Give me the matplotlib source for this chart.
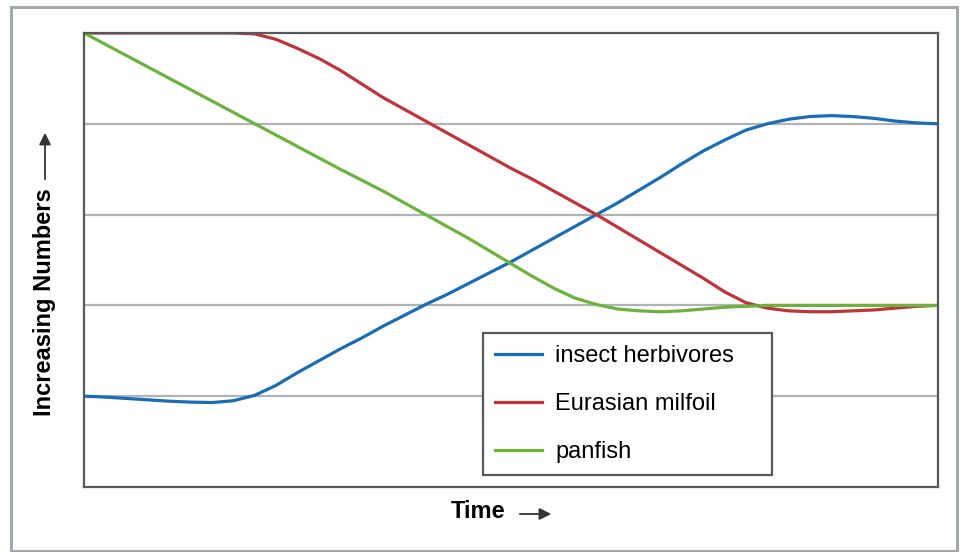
import matplotlib
matplotlib.use("Agg")
from matplotlib import pyplot as plt
from matplotlib.patches import Rectangle, FancyArrowPatch

plt.rcParams['font.family'] = ['Liberation Sans', 'DejaVu Sans']

time = [0, 0.25, 0.5, 0.75, 1, 1.25, 1.5, 1.75, 2, 2.25, 2.5, 2.75, 3, 3.25, 3.5, 3.75,
        4, 4.25, 4.5, 4.75, 5, 5.25, 5.5, 5.75, 6, 6.25, 6.5, 6.75, 7, 7.25, 7.5, 7.75,
        8, 8.25, 8.5, 8.75, 9, 9.25, 9.5, 9.75, 10]
herbivores = [1.0, 0.99, 0.975, 0.96, 0.945, 0.935, 0.93, 0.95, 1.01, 1.12, 1.26, 1.39,
              1.52, 1.64, 1.77, 1.89, 2.01, 2.12, 2.24, 2.36, 2.48, 2.61, 2.74, 2.87,
              3.0, 3.13, 3.27, 3.41, 3.56, 3.7, 3.82, 3.93, 4.0, 4.05, 4.08, 4.09,
              4.08, 4.06, 4.03, 4.01, 4.0]
milfoil = [5.0, 5.0, 5.0, 5.0, 5.0, 5.0, 5.0, 5.0, 4.99, 4.93, 4.83, 4.72, 4.59, 4.44,
           4.29, 4.16, 4.03, 3.9, 3.77, 3.64, 3.51, 3.39, 3.26, 3.13, 3.0, 2.86, 2.72,
           2.58, 2.44, 2.3, 2.15, 2.03, 1.97, 1.94, 1.93, 1.93, 1.94, 1.95, 1.97,
           1.99, 2.0]
panfish = [5.0, 4.875, 4.75, 4.625, 4.5, 4.375, 4.25, 4.125, 4.0, 3.875, 3.75, 3.625,
           3.5, 3.38, 3.26, 3.13, 3.0, 2.87, 2.74, 2.6, 2.46, 2.32, 2.19, 2.08, 2.01,
           1.96, 1.94, 1.93, 1.94, 1.96, 1.98, 1.99, 2.0, 2.0, 2.0, 2.0, 2.0, 2.0,
           2.0, 2.0, 2.0]
labels = ["insect herbivores", "Eurasian milfoil", "panfish"]
colors = ["#1a6db5", "#c1333b", "#6cb33e"]

fig = plt.figure(figsize=(9.64, 5.52), dpi=100)
W, H = 964, 552

# outer grey border
fig.patches.append(Rectangle((11 / W, 1 / H), 946 / W, 544 / H, transform=fig.transFigure,
                             fill=False, edgecolor="#a3a8ab", linewidth=2.2))

ax = fig.add_axes([84 / W, (H - 487) / H, 854 / W, 454 / H])
for spine in ax.spines.values():
    spine.set_color("#55595c")
    spine.set_linewidth(1.6)
    spine.set_zorder(4)

ax.set_xlim(0, 10)
ax.set_ylim(0, 5)
ax.set_yticks([1, 2, 3, 4])
ax.set_xticks([])
ax.tick_params(left=False, labelleft=False)
ax.grid(axis="y", color="#b0b3b5", linewidth=1.6)
ax.set_axisbelow(True)

for vals, lab, col in zip([herbivores, milfoil, panfish], labels, colors):
    ax.plot(time, vals, color=col, linewidth=2.3, label=lab, solid_joinstyle="round",
            zorder=3)

leg = ax.legend(loc="lower left",
                bbox_to_anchor=((483 - 84) / 854, (487 - 475) / 454, 289 / 854, 0.3),
                mode="expand", borderaxespad=0, fancybox=False, fontsize=17,
                handlelength=2.0, handletextpad=0.55, labelspacing=1.1, borderpad=0.5,
                framealpha=1)
leg.get_frame().set_edgecolor("#55595c")
leg.get_frame().set_linewidth(1.6)
leg.set_zorder(5)

fig.text(45 / W, 1 - 302 / H, "Increasing Numbers", rotation=90, fontsize=17,
         fontweight="bold", ha="center", va="center")
fig.text(478 / W, 1 - 512 / H, "Time", fontsize=17, fontweight="bold",
         ha="center", va="center")
fig.patches.append(FancyArrowPatch(
    (45 / W, 1 - 182 / H), (45 / W, 1 - 130 / H), transform=fig.transFigure,
    arrowstyle="-|>,head_length=7,head_width=3.5", color="#333333", linewidth=1.3))
fig.patches.append(FancyArrowPatch(
    (517 / W, 1 - 514 / H), (554 / W, 1 - 514 / H), transform=fig.transFigure,
    arrowstyle="-|>,head_length=7,head_width=3.5", color="#333333", linewidth=1.3))

fig.savefig("out.png", dpi=100)
